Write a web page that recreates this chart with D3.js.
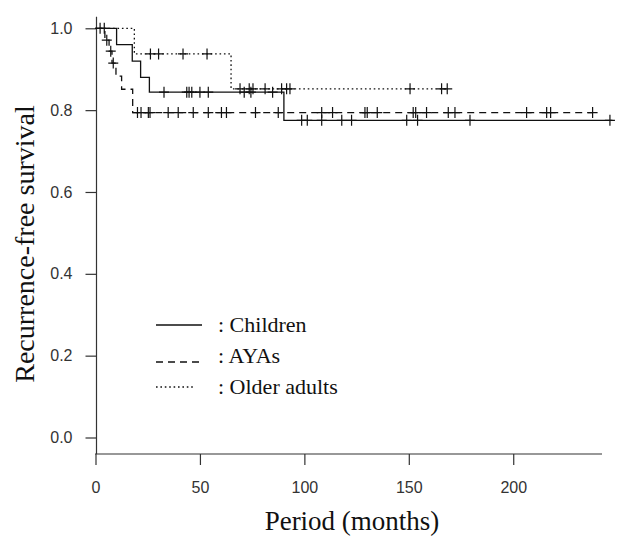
<!DOCTYPE html>
<html>
<head>
<meta charset="utf-8">
<script src="https://cdn.jsdelivr.net/npm/d3@7"></script>
<style>
  body { margin: 0; background: #fff; }
</style>
</head>
<body>
<svg id="chart" width="621" height="537"></svg>
<script>
// Axis ticks
var timeTicks = [0, 50, 100, 150, 200];
var survTicks = [0, 0.2, 0.4, 0.6, 0.8, 1.0];

// Children: step times (months), survival after each step, censored times
var childrenTimes = [0, 10.1, 17.6, 21.6, 25.8, 90.2];
var childrenSurv = [1, 0.96, 0.92, 0.88, 0.844, 0.775];
var childrenCensor = [2.2, 4.2, 32.8, 43.7, 44.8, 46.1, 50.0, 54.0, 71.2, 74.4, 84.8,
  98.7, 101.4, 108.3, 117.9, 122.6, 149.0, 154.2, 179.3, 246.3];
var childrenEnd = 247.5;

// AYAs
var ayaTimes = [0, 4.5, 6.5, 7.9, 9.8, 12.5, 17.8];
var ayaSurv = [1, 0.971, 0.944, 0.915, 0.883, 0.851, 0.794];
var ayaCensor = [5.4, 7.3, 8.5, 20.1, 21.8, 25.3, 26.1, 34.8, 39.6, 46.8, 54.0, 60.3,
  62.7, 76.6, 87.5, 108.3, 113.5, 129.0, 130.1, 134.9, 152.1, 153.3, 158.5, 168.9,
  172.1, 206.4, 216.0, 217.9, 238.0];
var ayaEnd = 238.0;

// Older adults
var olderTimes = [0, 18.6, 64.9];
var olderSurv = [1, 0.9375, 0.852];
var olderCensor = [26.3, 30.2, 41.9, 53.4, 69.2, 73.6, 75.4, 81.2, 89.1, 91.5, 93.1,
  150.6, 165.7, 168.4];
var olderEnd = 168.4;

var groupNames = [': Children', ': AYAs', ': Older adults'];

(function () {

  var svg = d3.select('#chart');
  var serif = '"Liberation Serif", "Times New Roman", serif';
  var sans = '"Liberation Sans", Arial, sans-serif';
  var ink = '#111';

  var x = d3.scaleLinear().domain([0, 242.5]).range([95.5, 602]);
  var y = d3.scaleLinear().domain([0, 1]).range([437.5, 28.3]);

  var groups = [
    { times: childrenTimes, surv: childrenSurv, censor: childrenCensor, end: childrenEnd, dash: null },
    { times: ayaTimes, surv: ayaSurv, censor: ayaCensor, end: ayaEnd, dash: '7,5' },
    { times: olderTimes, surv: olderSurv, censor: olderCensor, end: olderEnd, dash: '1.6,2.8' }
  ];

  // survival level at time t for a step curve
  function levelAt(g, t) {
    var s = g.surv[0];
    for (var i = 0; i < g.times.length; i++) {
      if (g.times[i] <= t) s = g.surv[i];
    }
    return s;
  }

  // Axes
  var xAxis = d3.axisBottom(x).tickValues(timeTicks).tickSize(11).tickSizeOuter(0).tickPadding(17);
  var yAxis = d3.axisLeft(y).tickValues(survTicks).tickSize(11).tickSizeOuter(0).tickPadding(13)
    .tickFormat(d3.format('.1f'));

  var gx = svg.append('g').attr('transform', 'translate(0,454)').call(xAxis);
  var gy = svg.append('g').attr('transform', 'translate(96.5,0)').call(yAxis);

  [gx, gy].forEach(function (g) {
    g.select('.domain').remove();
    g.selectAll('line').attr('stroke', '#333').attr('stroke-width', 1.2);
    g.selectAll('text').attr('fill', '#333').style('font-family', sans).style('font-size', '16px');
  });

  // axis lines (L shaped)
  svg.append('line')
      .attr('x1', 96.5).attr('x2', 96.5).attr('y1', 16.7).attr('y2', 454)
      .attr('stroke', '#333').attr('stroke-width', 1.2);
  svg.append('line')
      .attr('x1', 95).attr('x2', 602).attr('y1', 454).attr('y2', 454)
      .attr('stroke', '#333').attr('stroke-width', 1.2);

  // Draw the survival curves
  var line = d3.line()
      .x(function (d) { return x(d[0]); })
      .y(function (d) { return y(d[1]); })
      .curve(d3.curveStepAfter);

  groups.forEach(function (g) {
    var pts = g.times.map(function (t, i) { return [t, g.surv[i]]; });
    pts.push([g.end, g.surv[g.surv.length - 1]]);

    svg.append('path')
        .datum(pts)
        .attr('d', line)
        .attr('fill', 'none')
        .attr('stroke', ink)
        .attr('stroke-width', 1.3)
        .attr('stroke-dasharray', g.dash);

    // censor marks
    var marks = svg.append('g').selectAll('path')
        .data(g.censor)
        .enter()
      .append('path')
        .attr('d', function (t) {
          var cx = x(t), cy = y(levelAt(g, t));
          return 'M' + (cx - 5) + ',' + cy + 'H' + (cx + 5) +
                 'M' + cx + ',' + (cy - 5.5) + 'V' + (cy + 5.5);
        })
        .attr('stroke', ink)
        .attr('stroke-width', 1.2)
        .attr('fill', 'none');
  });

  // Legend
  var legendLineY = [325, 362, 387];
  var legendTextY = [332, 362.5, 393.5];
  var legendLineEnd = [202, 200, 195];

  groupNames.forEach(function (name, i) {
    svg.append('line')
        .attr('x1', 156).attr('x2', legendLineEnd[i])
        .attr('y1', legendLineY[i]).attr('y2', legendLineY[i])
        .attr('stroke', ink)
        .attr('stroke-width', 1.3)
        .attr('stroke-dasharray', groups[i].dash);

    svg.append('text')
        .attr('x', 218)
        .attr('y', legendTextY[i])
        .style('font-family', serif)
        .style('font-size', '22px')
        .attr('fill', ink)
        .text(name);
  });

  // Axis titles
  svg.append('text')
      .attr('x', 352)
      .attr('y', 530)
      .attr('text-anchor', 'middle')
      .style('font-family', serif)
      .style('font-size', '27px')
      .attr('fill', ink)
      .text('Period (months)');

  svg.append('text')
      .attr('transform', 'translate(34,244) rotate(-90)')
      .attr('text-anchor', 'middle')
      .style('font-family', serif)
      .style('font-size', '28px')
      .attr('fill', ink)
      .text('Recurrence-free survival');
})();
</script>
</body>
</html>
